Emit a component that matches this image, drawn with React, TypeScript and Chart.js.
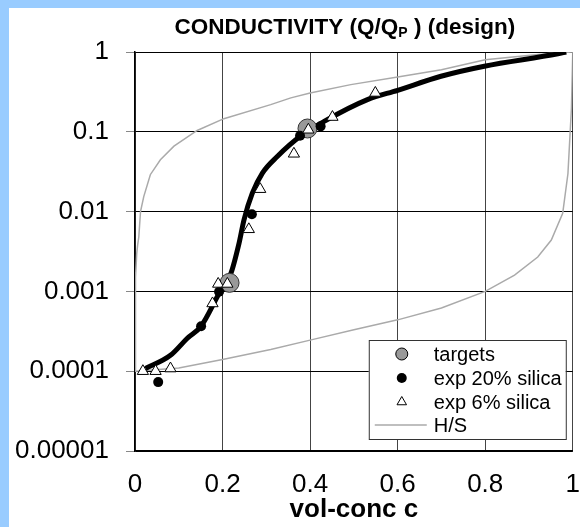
import React, { useEffect, useRef } from 'react';
import { Chart, registerables } from 'chart.js';

Chart.register(...registerables);

const titleMain = 'CONDUCTIVITY (Q/Q';
const titleSub = 'P';
const titleEnd = ' ) (design)';
const xAxisTitle = 'vol-conc c';

const xTickValues = [0, 0.2, 0.4, 0.6, 0.8, 1];
const xTickLabels = ['0', '0.2', '0.4', '0.6', '0.8', '1'];
const yTickValues = [0.00001, 0.0001, 0.001, 0.01, 0.1, 1];
const yTickLabels = ['0.00001', '0.0001', '0.001', '0.01', '0.1', '1'];

const legendLabels = ['targets', 'exp 20% silica', 'exp 6% silica', 'H/S'];

// design curve (thick black)
const designX = [0.024, 0.081, 0.119, 0.151, 0.192, 0.219, 0.2376, 0.249, 0.268, 0.291, 0.325, 0.379, 0.432, 0.531, 0.6, 0.699, 0.798, 0.966, 0.985];
const designY = [0.000108, 0.000158, 0.000257, 0.000366, 0.00094, 0.00168, 0.004, 0.0079, 0.017, 0.0304, 0.049, 0.089, 0.135, 0.253, 0.331, 0.497, 0.664, 0.949, 1];

// targets
const targetsX = [0.216, 0.394];
const targetsY = [0.00128, 0.11];

// exp 20% silica
const exp20X = [0.053, 0.151, 0.192, 0.267, 0.377, 0.424];
const exp20Y = [0.000073, 0.000366, 0.00099, 0.00927, 0.0893, 0.117];

// exp 6% silica
const exp6X = [0.018, 0.047, 0.081, 0.177, 0.19, 0.211, 0.26, 0.286, 0.363, 0.396, 0.451, 0.549];
const exp6Y = [0.0001, 0.0001, 0.000108, 0.000706, 0.00124, 0.00124, 0.006, 0.0191, 0.053, 0.106, 0.153, 0.307];

// H/S bounds
const hsUpperX = [0, 0.0005, 0.001, 0.002, 0.004, 0.006, 0.0087, 0.0126, 0.02, 0.035, 0.058, 0.089, 0.142, 0.203, 0.31, 0.356, 0.4, 0.493, 0.6, 0.7, 0.8, 0.897, 0.966, 1];
const hsUpperY = [0.0001, 0.0004, 0.0008, 0.0015, 0.003, 0.0038, 0.0048, 0.01, 0.0154, 0.029, 0.0446, 0.066, 0.104, 0.146, 0.219, 0.266, 0.307, 0.39, 0.485, 0.6, 0.8, 0.904, 0.977, 1];
const hsLowerX = [0, 0.1, 0.2, 0.31, 0.4, 0.5, 0.6, 0.7, 0.8, 0.867, 0.92, 0.951, 0.977, 0.989, 0.997, 1];
const hsLowerY = [0.0001, 0.00011, 0.00014, 0.000187, 0.000245, 0.00033, 0.00044, 0.00062, 0.001, 0.0016, 0.0027, 0.0044, 0.0095, 0.03, 0.2, 1];

const FONT = '"Liberation Sans", Arial, sans-serif';

const pts = (xs: number[], ys: number[]) => xs.map((x, i) => ({ x, y: ys[i] }));

const titlePlugin = {
  id: 'subTitle',
  afterDraw(chart: any) {
    const ctx = chart.ctx;
    const area = chart.chartArea;
    const big = `bold 22.5px ${FONT}`;
    const small = `bold 14px ${FONT}`;
    ctx.save();
    ctx.fillStyle = '#000';
    ctx.textBaseline = 'alphabetic';
    ctx.textAlign = 'left';
    ctx.font = big;
    const w1 = ctx.measureText(titleMain).width;
    const w3 = ctx.measureText(titleEnd).width;
    ctx.font = small;
    const w2 = ctx.measureText(titleSub).width;
    const total = w1 + w2 + w3;
    const cx = (area.left + area.right) / 2 - 9;
    const by = area.top - 18;
    let x = cx - total / 2;
    ctx.font = big;
    ctx.fillText(titleMain, x, by);
    x += w1;
    ctx.font = small;
    ctx.fillText(titleSub, x, by + 3);
    x += w2;
    ctx.font = big;
    ctx.fillText(titleEnd, x, by);
    ctx.restore();
  },
};

const legendPlugin = {
  id: 'boxLegend',
  afterDraw(chart: any) {
    const ctx = chart.ctx;
    const area = chart.chartArea;
    const left = area.right - 204;
    const right = area.right - 7;
    const top = area.bottom - 111;
    const bottom = area.bottom - 12;
    ctx.save();
    ctx.fillStyle = '#fff';
    ctx.fillRect(left, top, right - left, bottom - top);
    ctx.strokeStyle = '#333';
    ctx.lineWidth = 1;
    ctx.strokeRect(left + 0.5, top + 0.5, right - left, bottom - top);
    const sx = left + 33;
    const tx = left + 65;
    const rowY = [top + 14, top + 38, top + 62, top + 85];
    // targets
    ctx.beginPath();
    ctx.arc(sx, rowY[0], 6, 0, Math.PI * 2);
    ctx.fillStyle = '#999';
    ctx.fill();
    ctx.strokeStyle = '#000';
    ctx.lineWidth = 1;
    ctx.stroke();
    // exp 20
    ctx.beginPath();
    ctx.arc(sx, rowY[1], 5, 0, Math.PI * 2);
    ctx.fillStyle = '#000';
    ctx.fill();
    // exp 6 triangle
    const r = 5.5;
    ctx.beginPath();
    ctx.moveTo(sx, rowY[2] - r);
    ctx.lineTo(sx + r * Math.sin((2 * Math.PI) / 3), rowY[2] + r / 2);
    ctx.lineTo(sx - r * Math.sin((2 * Math.PI) / 3), rowY[2] + r / 2);
    ctx.closePath();
    ctx.fillStyle = '#fff';
    ctx.fill();
    ctx.strokeStyle = '#000';
    ctx.stroke();
    // H/S line
    ctx.beginPath();
    ctx.moveTo(left + 6, rowY[3]);
    ctx.lineTo(left + 58, rowY[3]);
    ctx.strokeStyle = '#aaa';
    ctx.lineWidth = 1.5;
    ctx.stroke();
    ctx.fillStyle = '#000';
    ctx.font = `20px ${FONT}`;
    ctx.textBaseline = 'middle';
    ctx.textAlign = 'left';
    legendLabels.forEach((t, i) => ctx.fillText(t, tx, rowY[i] + 1));
    ctx.restore();
  },
};

export default function App() {
  const ref = useRef<HTMLCanvasElement | null>(null);

  useEffect(() => {
    if (!ref.current) return;
    const chart = new Chart(ref.current, {
      type: 'scatter',
      data: {
        datasets: [
          {
            label: legendLabels[2],
            data: pts(exp6X, exp6Y),
            pointStyle: 'triangle',
            pointRadius: 6.5,
            backgroundColor: '#fff',
            borderColor: '#000',
            borderWidth: 1,
            showLine: false,
            order: 1,
          },
          {
            label: legendLabels[1],
            data: pts(exp20X, exp20Y),
            pointStyle: 'circle',
            pointRadius: 5,
            backgroundColor: '#000',
            borderColor: '#000',
            borderWidth: 0,
            showLine: false,
            order: 2,
          },
          {
            label: legendLabels[0],
            data: pts(targetsX, targetsY),
            pointStyle: 'circle',
            pointRadius: 9.5,
            backgroundColor: '#999',
            borderColor: '#333',
            borderWidth: 1,
            showLine: false,
            order: 3,
          },
          {
            label: 'design',
            data: pts(designX, designY),
            showLine: true,
            pointRadius: 0,
            borderColor: '#000',
            borderWidth: 5,
            cubicInterpolationMode: 'monotone',
            order: 4,
          },
          {
            label: legendLabels[3],
            data: pts(hsUpperX, hsUpperY),
            showLine: true,
            pointRadius: 0,
            borderColor: '#aaa',
            borderWidth: 1.5,
            tension: 0,
            order: 5,
          },
          {
            label: legendLabels[3] + ' lower',
            data: pts(hsLowerX, hsLowerY),
            showLine: true,
            pointRadius: 0,
            borderColor: '#aaa',
            borderWidth: 1.5,
            tension: 0,
            order: 6,
          },
        ],
      },
      options: {
        animation: false,
        responsive: false,
        maintainAspectRatio: false,
        layout: { padding: { top: 44, right: 9, left: 0, bottom: 0 } },
        plugins: {
          legend: { display: false },
          tooltip: { enabled: false },
          title: { display: false },
        },
        scales: {
          x: {
            type: 'linear',
            min: 0,
            max: 1,
            afterBuildTicks: (s: any) => {
              s.ticks = xTickValues.map((v) => ({ value: v }));
            },
            afterFit: (s: any) => {
              s.height = 76;
            },
            ticks: {
              callback: (_v: any, i: number) => xTickLabels[i],
              font: { family: FONT, size: 26 },
              color: '#000',
              padding: 18,
              maxRotation: 0,
            },
            grid: { color: '#444', lineWidth: 1, drawTicks: false },
            border: { color: '#000', width: 1.5 },
            title: {
              display: true,
              text: xAxisTitle,
              font: { family: FONT, size: 26, weight: 'bold' },
              color: '#000',
              padding: { top: 0, bottom: 2 },
            },
          },
          y: {
            type: 'logarithmic',
            min: 0.00001,
            max: 1,
            afterBuildTicks: (s: any) => {
              s.ticks = yTickValues.map((v) => ({ value: v }));
            },
            afterFit: (s: any) => {
              s.width = 126;
            },
            ticks: {
              callback: (_v: any, i: number) => yTickLabels[i],
              font: { family: FONT, size: 26 },
              color: '#000',
              padding: 17,
            },
            grid: { color: '#000', lineWidth: 1, tickColor: '#888', tickLength: 9 },
            border: { color: '#000', width: 1.5 },
          },
        },
      },
      plugins: [titlePlugin, legendPlugin],
    } as any);
    return () => chart.destroy();
  }, []);

  return (
    <div
      style={{
        position: 'absolute',
        left: 0,
        top: 0,
        width: 580,
        height: 527,
        boxSizing: 'border-box',
        background: '#fff',
        borderTop: '8px solid #99ccff',
        borderLeft: '9px solid #99ccff',
        overflow: 'hidden',
      }}
    >
      <canvas ref={ref} width={589} height={519} style={{ display: 'block', width: 589, height: 519 }} />
    </div>
  );
}
